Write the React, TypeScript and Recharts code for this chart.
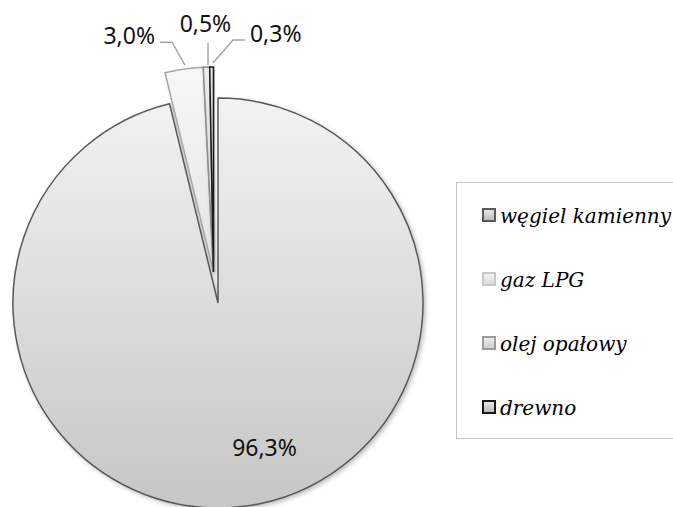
import React from 'react';
import { PieChart, Pie, Cell, Legend } from 'recharts';

const categories = ['węgiel kamienny', 'gaz LPG', 'olej opałowy', 'drewno'];
const shares = [96.3, 3.0, 0.5, 0.3];
const data = categories.map((name, i) => ({ name, value: shares[i] }));

const fills = ['url(#gWegiel)', 'url(#gGaz)', 'url(#gOlej)', 'url(#gDrewno)'];
const strokes = ['#595959', '#a6a6a6', '#8c8c8c', '#1a1a1a'];
const legendFillTop = ['#e6e6e6', '#f2f2f2', '#ececec', '#e6e6e6'];
const legendFillBottom = ['#bdbdbd', '#dcdcdc', '#cfcfcf', '#bdbdbd'];
const legendStrokes = ['#595959', '#c8c8c8', '#9c9c9c', '#1a1a1a'];

const RAD = Math.PI / 180;
const fmt = (v: number) => v.toFixed(1).replace('.', ',') + '%';

type Lay = { start: number[]; pts: number[][]; text: number[]; anchor: 'start' | 'middle' | 'end' };
const labelLayout: Record<number, Lay> = {
  1: { start: [1, -4], pts: [[-12, -27], [-24, -27]], text: [-29, -25], anchor: 'end' },
  2: { start: [1.6, -2], pts: [[1.6, -24]], text: [-1, -35], anchor: 'middle' },
  3: { start: [1.4, -4], pts: [[21.4, -27], [33.4, -27]], text: [38.4, -25], anchor: 'start' },
};

const labelFont = { fontFamily: '"Noto Sans", sans-serif', fontSize: 23, fill: '#111' };

const mainLabel = (props: any) => {
  const { cx, cy, index, value } = props;
  if (index !== 0) return <g />;
  return (
    <text x={cx + 46.5} y={cy + 153} textAnchor="middle" {...labelFont}>
      {fmt(value)}
    </text>
  );
};

const smallLabel = (props: any) => {
  const { cx, cy, midAngle, outerRadius, index, value } = props;
  const lay = labelLayout[index];
  if (!lay) return <g />;
  const ax = cx + outerRadius * Math.cos(-midAngle * RAD);
  const ay = cy + outerRadius * Math.sin(-midAngle * RAD);
  const pts = [lay.start, ...lay.pts].map((p) => `${ax + p[0]},${ay + p[1]}`).join(' ');
  return (
    <g>
      <polyline points={pts} fill="none" stroke="#a6a6a6" strokeWidth={1.5} />
      <text x={ax + lay.text[0]} y={ay + lay.text[1]} textAnchor={lay.anchor} {...labelFont}>
        {fmt(value)}
      </text>
    </g>
  );
};

const renderLegend = () => (
  <div
    style={{
      boxSizing: 'border-box',
      width: 240,
      height: 257,
      border: '1px solid #c4c4c4',
      background: '#fff',
    }}
  >
    {categories.map((c, i) => (
      <div
        key={c}
        style={{ height: 64, display: 'flex', alignItems: 'center', paddingLeft: 25 }}
      >
        <span
          style={{
            display: 'inline-block',
            boxSizing: 'border-box',
            width: 14,
            height: 14,
            border: `2px solid ${legendStrokes[i]}`,
            background: `linear-gradient(${legendFillTop[i]}, ${legendFillBottom[i]})`,
            marginRight: 4,
          }}
        />
        <span
          style={{
            fontFamily: '"DejaVu Serif", serif',
            fontStyle: 'italic',
            fontSize: 20,
            color: '#000',
            lineHeight: '20px',
            position: 'relative',
            top: 1,
            whiteSpace: 'nowrap',
          }}
        >
          {c}
        </span>
      </div>
    ))}
  </div>
);

export default function App() {
  return (
    <div style={{ position: 'fixed', left: 0, top: 0, width: 673, height: 507, overflow: 'hidden', background: '#fff' }}>
      <PieChart width={673} height={507} margin={{ top: 0, right: 0, bottom: 0, left: 0 }}>
        <defs>
          <linearGradient id="gWegiel" x1="0" y1="0" x2="0" y2="1">
            <stop offset="0%" stopColor="#f2f2f2" />
            <stop offset="100%" stopColor="#c6c6c6" />
          </linearGradient>
          <linearGradient id="gGaz" x1="0" y1="0" x2="0" y2="1">
            <stop offset="0%" stopColor="#f7f7f7" />
            <stop offset="100%" stopColor="#e4e4e4" />
          </linearGradient>
          <linearGradient id="gOlej" x1="0" y1="0" x2="0" y2="1">
            <stop offset="0%" stopColor="#ececec" />
            <stop offset="100%" stopColor="#d4d4d4" />
          </linearGradient>
          <linearGradient id="gDrewno" x1="0" y1="0" x2="0" y2="1">
            <stop offset="0%" stopColor="#e0e0e0" />
            <stop offset="100%" stopColor="#bdbdbd" />
          </linearGradient>
          <filter id="shadow" x="-10%" y="-10%" width="130%" height="130%">
            <feDropShadow dx="2" dy="2" stdDeviation="2" floodColor="#000" floodOpacity="0.25" />
          </filter>
        </defs>
        <Pie
          data={data}
          dataKey="value"
          nameKey="name"
          cx={218}
          cy={303}
          outerRadius={205}
          startAngle={90}
          endAngle={-270}
          isAnimationActive={false}
          label={mainLabel}
          labelLine={false}
          strokeWidth={1.5}
        >
          {data.map((d, i) => (
            <Cell
              key={d.name}
              fill={i === 0 ? fills[0] : 'none'}
              stroke={i === 0 ? strokes[0] : 'none'}
              filter={i === 0 ? 'url(#shadow)' : undefined}
            />
          ))}
        </Pie>
        <Pie
          data={data}
          dataKey="value"
          nameKey="name"
          cx={213.5}
          cy={272}
          outerRadius={205}
          startAngle={90}
          endAngle={-270}
          isAnimationActive={false}
          label={smallLabel}
          labelLine={false}
          legendType="none"
          strokeWidth={1.5}
        >
          {data.map((d, i) => (
            <Cell
              key={d.name}
              fill={i === 0 ? 'none' : fills[i]}
              stroke={i === 0 ? 'none' : strokes[i]}
              filter={i === 0 ? undefined : 'url(#shadow)'}
            />
          ))}
        </Pie>
        <Legend
          layout="vertical"
          align="center"
          verticalAlign="middle"
          content={renderLegend}
          wrapperStyle={{ left: 456, top: 182, width: 240, height: 257 }}
        />
      </PieChart>
    </div>
  );
}
